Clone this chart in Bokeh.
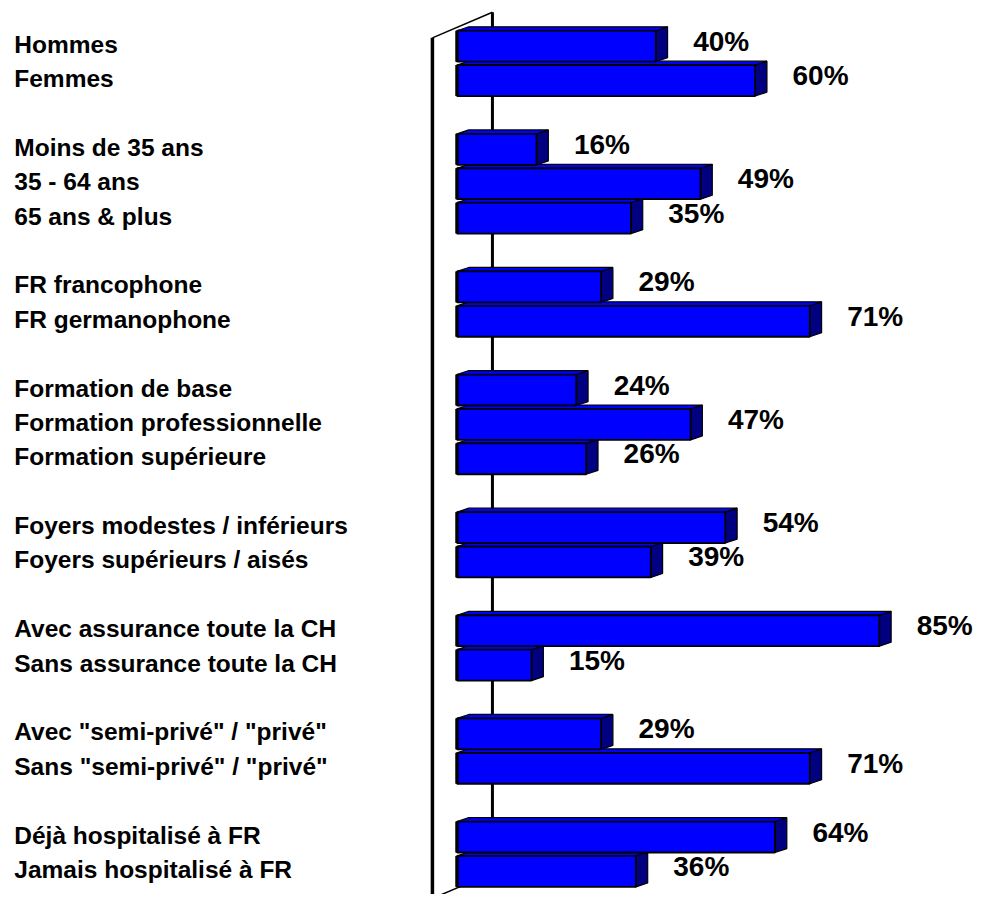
from bokeh.plotting import figure
from bokeh.models import Range1d, ColumnDataSource
from bokeh.core.properties import value
from bokeh.embed import file_html
from bokeh.resources import INLINE

# ---- data ----
categories = [
    "Hommes", "Femmes",
    "Moins de 35 ans", "35 - 64 ans", "65 ans & plus",
    "FR francophone", "FR germanophone",
    "Formation de base", "Formation professionnelle", "Formation supérieure",
    "Foyers modestes / inférieurs", "Foyers supérieurs / aisés",
    "Avec assurance toute la CH", "Sans assurance toute la CH",
    'Avec "semi-privé" / "privé"', 'Sans "semi-privé" / "privé"',
    "Déjà hospitalisé à FR", "Jamais hospitalisé à FR",
]
values = [40, 60, 16, 49, 35, 29, 71, 24, 47, 26, 54, 39, 85, 15, 29, 71, 64, 36]
group_sizes = [2, 3, 2, 3, 2, 2, 2, 2]

# ---- layout (designed on a 992 x 910 canvas, drawn at 976 x 894) ----
REF_W, REF_H = 992, 910
W, H = 976, 894
S = W / REF_W
PX = 5.05          # reference pixels per percent
ROW = 35.0         # reference pixels per row slot
X0 = 464.0         # reference x of value 0
Y0 = 46.5          # reference y of first row centre
HALF = 0.45        # half bar thickness (rows)
DX = 12.0 / PX     # 3D depth, x
DY = 4.0 / ROW     # 3D depth, y

def row_of(ypix):
    return (ypix - Y0) / ROW

def x_of(xpix):
    return (xpix - X0) / PX

rows = []
slot = 0
for g in group_sizes:
    for _ in range(g):
        rows.append(slot)
        slot += 1
    slot += 1

p = figure(width=W, height=H, output_backend="svg", toolbar_location=None,
           x_range=Range1d(x_of(0), x_of(REF_W)),
           y_range=Range1d(row_of(REF_H), row_of(0)),
           x_axis_location=None, y_axis_location=None, min_border=0)
p.grid.visible = False
p.outline_line_color = None
p.background_fill_color = "white"
p.border_fill_color = "white"

# ---- wall (decoration) ----
wall_front = x_of(439)
wall_back = x_of(500)
p.segment(x0=[wall_back], y0=[row_of(12)], x1=[wall_back], y1=[row_of(888)],
          line_color="black", line_width=3)
p.segment(x0=[wall_front], y0=[row_of(38)], x1=[wall_front], y1=[row_of(REF_H + 10)],
          line_color="black", line_width=3.5)
p.segment(x0=[wall_front, wall_front], y0=[row_of(38), row_of(914)],
          x1=[wall_back, wall_back], y1=[row_of(12), row_of(888)],
          line_color="black", line_width=1.5)

# ---- 3D bars ----
side_xs, side_ys, top_xs, top_ys = [], [], [], []
for v, r in zip(values, rows):
    t, b = r - HALF, r + HALF
    side_xs.append([v, v + DX, v + DX, v])
    side_ys.append([t, t - DY, b - DY, b])
    top_xs.append([0, v, v + DX, DX])
    top_ys.append([t, t, t - DY, t - DY])

p.patches(side_xs, side_ys, fill_color="#000080", line_color="black", line_width=1.2)
p.patches(top_xs, top_ys, fill_color="#0000FF", line_color="black", line_width=1.2)

src = ColumnDataSource(dict(
    cat=categories, val=values, row=rows,
    top=[r - HALF for r in rows], bottom=[r + HALF for r in rows],
    zero=[0] * len(values),
    lbl=[f"{v}%" for v in values],
))
p.quad(left="zero", right="val", top="top", bottom="bottom", source=src,
       fill_color="#0000FF", line_color="black", line_width=1.8)
p.segment(x0="zero", y0="top", x1="zero", y1="bottom", source=src,
          line_color="black", line_width=3.5)

# value labels
p.text(x="val", y="row", text="lbl", source=src,
       text_font=value("Liberation Sans"),
       text_font_style="bold", text_font_size="28px",
       text_baseline="middle", text_align="left",
       x_offset=38 * S, y_offset=-5, text_color="black")

# category labels
p.text(x=x_of(14), y="row", text="cat", source=src,
       text_font=value("Liberation Sans"), text_font_style="bold",
       text_font_size="24.5px", text_baseline="middle", text_align="left",
       y_offset=-2, text_color="black")

open("out.html", "w").write(file_html(p, INLINE))
